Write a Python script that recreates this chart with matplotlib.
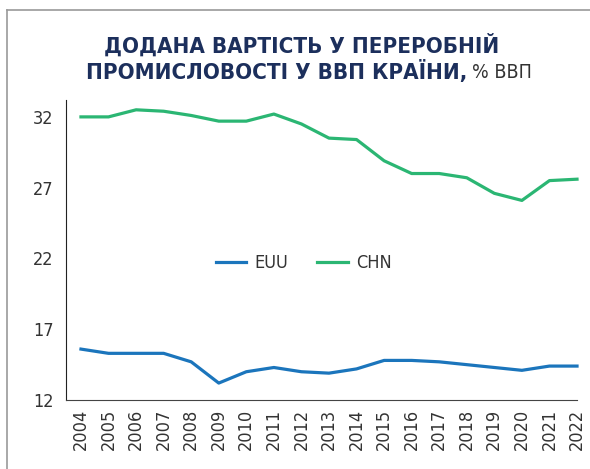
import matplotlib
matplotlib.use("Agg")
import matplotlib.pyplot as plt
from matplotlib import font_manager

years = list(range(2004, 2023))
euu = [15.6, 15.3, 15.3, 15.3, 14.7, 13.2, 14.0, 14.3, 14.0, 13.9, 14.2, 14.8,
       14.8, 14.7, 14.5, 14.3, 14.1, 14.4, 14.4]
chn = [32.0, 32.0, 32.5, 32.4, 32.1, 31.7, 31.7, 32.2, 31.5, 30.5, 30.4, 28.9,
       28.0, 28.0, 27.7, 26.6, 26.1, 27.5, 27.6]
yticks = [12, 17, 22, 27, 32]

names = {f.name for f in font_manager.fontManager.ttflist}
narrow = "Liberation Sans Narrow" if "Liberation Sans Narrow" in names else "DejaVu Sans"
stretch = "normal" if narrow != "DejaVu Sans" else "condensed"

fig = plt.figure(figsize=(5.9, 4.69), dpi=100)
ax = fig.add_axes([0.112, 0.147, 0.866, 0.64])

ax.plot(years, euu, color="#1b75bc", lw=2.3, label="EUU", clip_on=False)
ax.plot(years, chn, color="#2bb673", lw=2.3, label="CHN", clip_on=False)

ax.set_xlim(2003.46, 2022)
ax.set_ylim(12, 33.2)
ax.set_yticks(yticks)
ax.set_xticks(years)
ax.set_xticklabels([str(y) for y in years], rotation=90)
for lab in ax.get_xticklabels() + ax.get_yticklabels():
    lab.set_fontfamily(narrow)
    lab.set_fontstretch(stretch)
    lab.set_fontsize(13)
    lab.set_color("#333333")
ax.tick_params(length=0)
ax.tick_params(axis="y", pad=9)
ax.tick_params(axis="x", pad=6)
for s in ["top", "right"]:
    ax.spines[s].set_visible(False)
ax.spines["left"].set_color("#222222")
ax.spines["bottom"].set_color("#444444")

leg = ax.legend(loc="center", bbox_to_anchor=(0.465, 0.455), ncol=2, frameon=False,
                handlelength=1.7, columnspacing=1.6, handletextpad=0.45,
                prop={"family": narrow, "stretch": stretch, "size": 13})
for t in leg.get_texts():
    t.set_color("#333333")

# frame lines (left and top)
fig.add_artist(plt.Line2D([0.012, 0.012], [0, 0.979], color="#9a9a9a", lw=1.2))
fig.add_artist(plt.Line2D([0.012, 1.0], [0.979, 0.979], color="#9a9a9a", lw=1.2))

navy = "#1c2f5c"
fig.text(0.511, 0.905, "ДОДАНА ВАРТІСТЬ У ПЕРЕРОБНІЙ", ha="center", va="center",
         fontsize=16, fontweight="bold", family=narrow, fontstretch=stretch, color=navy)
t2 = fig.text(0.145, 0.848, "ПРОМИСЛОВОСТІ У ВВП КРАЇНИ,", ha="left", va="center",
              fontsize=16, fontweight="bold", family=narrow, fontstretch=stretch, color=navy)
fig.canvas.draw()
bb = t2.get_window_extent(renderer=fig.canvas.get_renderer())
x_end = bb.x1 / fig.bbox.width
fig.text(x_end + 0.008, 0.846, "% ВВП", ha="left", va="center", fontsize=14,
         family=narrow, fontstretch=stretch, color="#333333")

fig.savefig("out.png", dpi=100)
